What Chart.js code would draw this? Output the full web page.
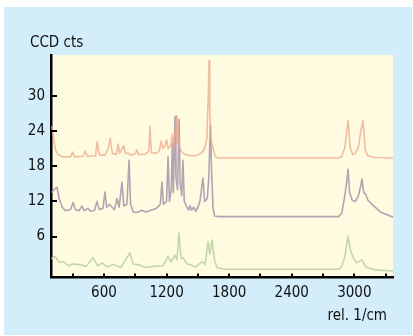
<!DOCTYPE html>
<html>
<head>
<meta charset="utf-8">
<script src="https://cdn.jsdelivr.net/npm/chart.js@4.4.1/dist/chart.umd.min.js"></script>
<style>
  html, body { margin: 0; padding: 0; background: #ffffff; width: 413px; height: 336px; overflow: hidden; }
  #panel { position: absolute; left: 4px; top: 7px; width: 408px; height: 328px; background: #d3eefa; }
  canvas { display: block; }
</style>
</head>
<body>
<div id="panel"><canvas id="c" width="408" height="328"></canvas></div>
<script>
// ---- Data ----
const yTitle = 'CCD cts';
const xTitle = 'rel. 1/cm';
const yTickValues = [6, 12, 18, 24, 30];
const xTickLabels = [600, 1200, 1800, 2400, 3000];
const xMinorTicks = [300, 900, 1500, 2100, 2700, 3300];

const orangeX = [92,100,115,135,160,200,280,300,320,400,420,440,520,535,555,610,640,660,680,720,735,750,790,805,840,850,900,915,930,1000,1030,1041,1055,1100,1130,1150,1165,1185,1200,1215,1240,1255,1270,1285,1292,1300,1310,1320,1340,1380,1430,1480,1530,1560,1585,1600,1607,1614,1625,1640,1655,1670,1700,2850,2880,2910,2940,2960,2985,3010,3040,3062,3083,3105,3130,3200,3371];
const orangeY = [24.5,24.8,23,20.8,20,19.6,19.6,20.4,19.6,19.7,20.6,19.7,19.8,22.2,19.9,19.9,21.0,22.8,20.2,20,21.8,20.2,21.5,20.2,20.2,19.9,20.1,20.8,20.0,20.1,20.6,24.8,20.3,20.2,20.6,22.3,21.0,21.5,22.5,21.0,21.5,23.5,21.0,24.5,26.6,22,25.5,21.5,20.5,20.0,19.8,19.8,20.2,20.8,22.5,30,36.0,28,22.5,21.5,20.5,19.6,19.4,19.4,19.7,21.2,25.8,21.2,20.0,20.2,21.3,24.0,25.8,20.8,19.8,19.5,19.4];

const purpleX = [92,120,150,170,200,230,280,303,325,360,389,410,447,470,510,533,555,590,610,625,650,700,725,745,773,790,820,840,855,880,920,960,1000,1050,1100,1140,1156,1170,1200,1214,1228,1245,1255,1265,1281,1290,1305,1320,1330,1345,1357,1370,1395,1410,1425,1440,1460,1480,1500,1520,1549,1565,1590,1605,1620,1632,1645,1660,1700,2850,2880,2905,2925,2940,2955,2980,3010,3040,3060,3074,3090,3110,3130,3170,3250,3371];
const purpleY = [13.5,14.0,14.4,12.5,11,10.4,10.6,11.8,10.6,10.4,11.2,10.4,10.8,10.3,10.5,12.0,10.6,10.8,13.6,11,11.5,10.6,12.5,11,15.3,11.2,11.5,19.0,11.5,10.2,10.1,10.5,10.2,10.5,10.8,11.5,15.3,11.5,12,19.6,12,14,22,13.5,26.5,16,14,26.0,15,13,19,12,11,10.5,11.3,10.5,11,10.3,11,12,16,12,12.5,16,25,17,11,9.5,9.4,9.4,10,12.5,15,17.5,13.5,12.2,12.0,13,14.5,15.8,13.5,13.2,12.2,11.5,10.2,9.3];

const greenX = [92,130,170,210,260,300,370,430,495,540,581,630,686,760,849,880,926,1000,1080,1166,1214,1240,1281,1300,1319,1340,1357,1400,1425,1480,1540,1570,1597,1615,1635,1660,1683,1750,2850,2880,2910,2940,2965,2990,3020,3074,3110,3200,3371];
const greenY = [2.2,2.6,1.6,1.7,1.0,1.3,1.2,0.9,2.4,1.0,1.5,0.8,1.2,0.7,3.2,1.3,1.2,0.7,0.9,1.0,2.6,1.6,2.8,2.0,6.6,2.2,2.4,1.3,1.2,0.8,1.7,1.2,5.1,3.0,5.4,2.0,0.7,0.4,0.4,0.9,2.6,6.0,3.6,2.4,1.5,2.0,0.8,0.3,0.1];

const seriesNames = ['spectrum 1', 'spectrum 2', 'spectrum 3'];

function pairs(xs, ys) { return xs.map((x, i) => ({ x: x, y: ys[i] })); }

const FAMILY = "'DejaVu Sans Condensed', 'Liberation Sans Narrow', sans-serif";
const FSIZE = 15;

const plotBg = {
  id: 'plotBg',
  beforeDraw(chart) {
    const { ctx, chartArea: a } = chart;
    ctx.save();
    ctx.fillStyle = '#fefbe0';
    ctx.fillRect(a.left, a.top, a.right - a.left, a.bottom - a.top);
    ctx.restore();
  }
};

const innerTicks = {
  id: 'innerTicks',
  afterDraw(chart) {
    const { ctx, chartArea: a, scales } = chart;
    ctx.save();
    ctx.strokeStyle = '#000';
    ctx.lineWidth = 2;
    yTickValues.forEach(v => {
      const p = Math.round(scales.y.getPixelForValue(v));
      ctx.beginPath(); ctx.moveTo(a.left, p); ctx.lineTo(a.left + 6, p); ctx.stroke();
    });
    xTickLabels.concat(xMinorTicks).forEach(v => {
      const p = Math.round(scales.x.getPixelForValue(v));
      ctx.beginPath(); ctx.moveTo(p, a.bottom); ctx.lineTo(p, a.bottom - 4); ctx.stroke();
    });
    ctx.restore();
  }
};

const captions = {
  id: 'captions',
  afterDraw(chart) {
    const { ctx, chartArea: a } = chart;
    ctx.save();
    ctx.fillStyle = '#111';
    ctx.font = FSIZE + 'px ' + FAMILY;
    ctx.textBaseline = 'alphabetic';
    ctx.textAlign = 'left';
    ctx.fillText(yTitle, a.left - 21, a.top - 8);
    ctx.textAlign = 'right';
    ctx.fillText(xTitle, a.right - 6, a.bottom + 42);
    ctx.restore();
  }
};

new Chart(document.getElementById('c'), {
  type: 'line',
  data: {
    datasets: [
      { label: seriesNames[0], data: pairs(orangeX, orangeY), borderColor: 'rgba(236,165,135,0.72)', borderWidth: 1.6 },
      { label: seriesNames[1], data: pairs(purpleX, purpleY), borderColor: 'rgba(150,130,160,0.72)', borderWidth: 1.6 },
      { label: seriesNames[2], data: pairs(greenX, greenY), borderColor: 'rgba(180,208,155,0.8)', borderWidth: 1.6 }
    ]
  },
  options: {
    responsive: false,
    animation: false,
    devicePixelRatio: 1,
    layout: { padding: { left: 0, right: 19, top: 48, bottom: 0 } },
    elements: { point: { radius: 0 }, line: { tension: 0, borderJoinStyle: 'round' } },
    plugins: {
      legend: { display: false },
      tooltip: { enabled: false },
      title: { display: false }
    },
    scales: {
      x: {
        type: 'linear', min: 92, max: 3371,
        afterBuildTicks: s => { s.ticks = xTickLabels.map(v => ({ value: v })); },
        afterFit: s => { s.height = 57.5; },
        grid: { drawOnChartArea: false, drawTicks: false, color: 'rgba(0,0,0,0)' },
        border: { display: true, color: '#000', width: 2.5 },
        ticks: { color: '#111', padding: 7, maxRotation: 0, font: { family: FAMILY, size: FSIZE }, callback: v => String(v) }
      },
      y: {
        type: 'linear', min: -1, max: 37,
        afterBuildTicks: s => { s.ticks = yTickValues.map(v => ({ value: v })); },
        afterFit: s => { s.width = 47; },
        grid: { drawOnChartArea: false, drawTicks: false, color: 'rgba(0,0,0,0)' },
        border: { display: true, color: '#000', width: 2.5 },
        ticks: { color: '#111', padding: 6, font: { family: FAMILY, size: FSIZE }, callback: v => String(v) }
      }
    }
  },
  plugins: [plotBg, innerTicks, captions]
});
</script>
</body>
</html>
